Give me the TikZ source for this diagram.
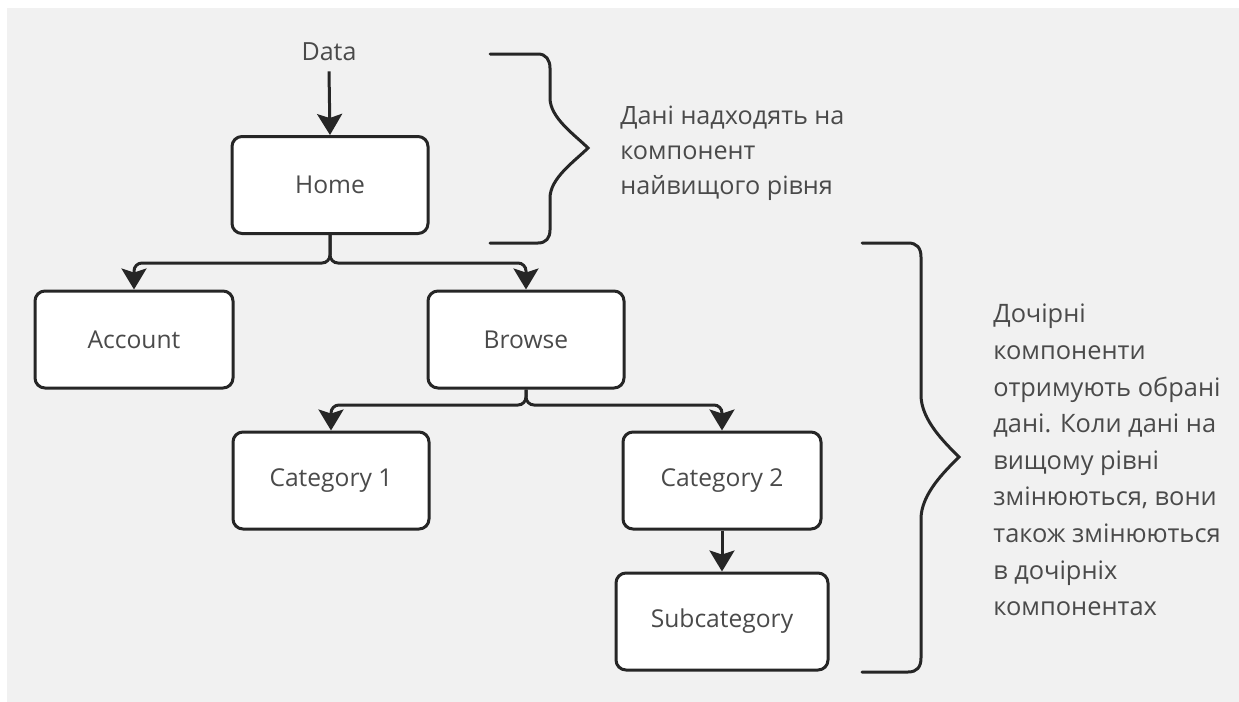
\documentclass[tikz,border=0pt]{standalone}
\usepackage{fontspec}
\setmainfont{Open Sans}
\usetikzlibrary{arrows.meta}
\definecolor{bg}{HTML}{F1F1F1}
\definecolor{ln}{HTML}{262626}
\definecolor{tx}{HTML}{4A4A4A}
\begin{document}
\begin{tikzpicture}[x=0.5pt,y=-0.5pt,
  box/.style={draw=ln,line width=1.5pt,fill=white,rounded corners=5pt,
    minimum height=48.5pt,inner sep=0pt,text=tx,font=\fontsize{12.3pt}{14pt}\selectfont},
  conn/.style={draw=ln,line width=1.5pt,rounded corners=4pt,
    -{Stealth[length=10.5pt,width=12.5pt,inset=2pt]}},
  brace/.style={draw=ln,line width=1.5pt,line cap=round},
  note/.style={anchor=west,inner sep=0pt,align=left,text=tx}]
\useasboundingbox (0,0) rectangle (1239,702);
\fill[white] (0,0) rectangle (1239,702);
\fill[bg] (7,8) rectangle (1239,702);

\node[inner sep=0pt,text=tx,font=\fontsize{12.5pt}{14pt}\selectfont] (data) at (329,52) {Data};
\node[box,minimum width=98pt] (home) at (330,185) {Home};
\node[box,minimum width=99pt] (account) at (134,339.5) {Account};
\node[box,minimum width=98pt] (browse) at (526,339.5) {Browse};
\node[box,minimum width=98pt] (cat1) at (331,480.5) {Category 1};
\node[box,minimum width=99pt] (cat2) at (722,480.5) {Category 2};
\node[box,minimum width=106pt] (sub) at (722,621.5) {Subcategory};

\coordinate (hf) at (330,263);
\coordinate (bf) at (526,405);

\draw[conn] ([yshift=-5pt]data.south) -- (home.north);
\draw[conn] (home.south) -- (hf) -| (account.north);
\draw[conn] (home.south) -- (hf) -| (browse.north);
\draw[conn] (browse.south) -- (bf) -| (cat1.north);
\draw[conn] (browse.south) -- (bf) -| (cat2.north);
\draw[conn] (cat2.south) -- (sub.north);

\draw[brace] (490,54) -- (538,54) .. controls (546,54) and (550,60) .. (550,68) -- (550,98)
  .. controls (550,118) and (575,135) .. (588,148)
  .. controls (575,161) and (550,178) .. (550,198) -- (550,230)
  .. controls (550,238) and (546,243) .. (538,243) -- (490,243);
\draw[brace] (862,243) -- (908,243) .. controls (917,243) and (921,248) .. (921,257) -- (921,395)
  .. controls (921,420) and (945,443) .. (959,457)
  .. controls (945,471) and (921,494) .. (921,519) -- (921,658)
  .. controls (921,667) and (917,672) .. (908,672) -- (862,672);

\node[note,font=\fontsize{12.6pt}{17.5pt}\selectfont] (t1) at (620,153)
  {Дані надходять на\\компонент\\найвищого рівня};
\node[note,font=\fontsize{12.7pt}{18.3pt}\selectfont] (t2) at (993,460)
  {Дочірні\\компоненти\\отримують обрані\\дані. Коли дані на\\вищому рівні\\змінюються, вони\\також змінюються\\в дочірніх\\компонентах};
\end{tikzpicture}
\end{document}
